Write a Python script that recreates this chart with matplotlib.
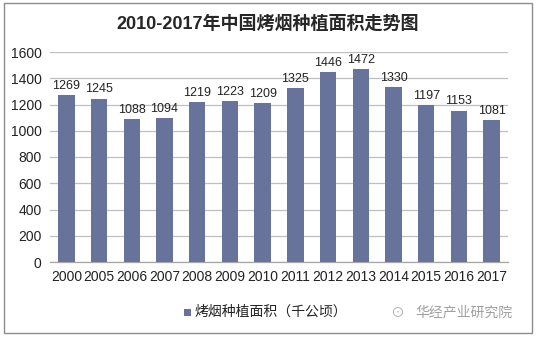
import matplotlib
matplotlib.use("Agg")
import matplotlib.pyplot as plt
from matplotlib.patches import Rectangle

plt.rcParams['font.family'] = ['Liberation Sans', 'Noto Sans CJK SC', 'DejaVu Sans']

years = ['2000', '2005', '2006', '2007', '2008', '2009', '2010', '2011',
         '2012', '2013', '2014', '2015', '2016', '2017']
area = [1269, 1245, 1088, 1094, 1219, 1223, 1209, 1325, 1446, 1472, 1330, 1197, 1153, 1081]
yticks = [0, 200, 400, 600, 800, 1000, 1200, 1400, 1600]
title = '2010-2017年中国烤烟种植面积走势图'
series_name = '烤烟种植面积（千公顷）'
watermark = '华经产业研究院'

bar_color = '#67739A'

fig = plt.figure(figsize=(5.36, 3.37), dpi=100)
ax = fig.add_axes([50/536, 1-262/337, 458/536, 210/337])

x = range(len(years))
ax.bar(x, area, width=0.5, color=bar_color, zorder=3)
for xi, v in zip(x, area):
    ax.text(xi, v + 25, str(v), ha='center', va='bottom', fontsize=9, color='#222222')

ax.set_xlim(-0.5, len(years) - 0.5)
ax.set_ylim(0, 1600)
ax.set_yticks(yticks)
ax.set_yticklabels([str(t) for t in yticks], fontsize=10, color='#222222')
ax.set_xticks(list(x))
ax.set_xticklabels(years, fontsize=10, color='#222222')
ax.tick_params(axis='both', length=0, pad=6)
ax.grid(axis='y', color='#BFBFBF', linewidth=0.9, zorder=0)
for s in ['top', 'right', 'left']:
    ax.spines[s].set_visible(False)
ax.spines['bottom'].set_color('#A6A6A6')
ax.spines['bottom'].set_linewidth(0.9)

fig.text(0.5, 1-24/337, title, ha='center', va='center', fontsize=13, fontweight='bold', color='#262626')

# legend
fig.patches.append(Rectangle((184/536, 1-316/337), 7/536, 7/337, transform=fig.transFigure,
                             facecolor=bar_color, edgecolor='none'))
fig.text(194/536, 1-312/337, series_name, ha='left', va='center', fontsize=10, color='#222222')

# watermark
fig.text(390/536, 1-312/337, '⊙', ha='left', va='center', fontsize=10, color='#B0B0B0')
fig.text(415/536, 1-312/337, watermark, ha='left', va='center', fontsize=10, color='#A0A0A0')

# border
fig.patches.append(Rectangle((4/536, 4/337), 528/536, 330/337, transform=fig.transFigure,
                             facecolor='none', edgecolor='#8C8C8C', linewidth=1))

fig.savefig('out.png', dpi=100)
